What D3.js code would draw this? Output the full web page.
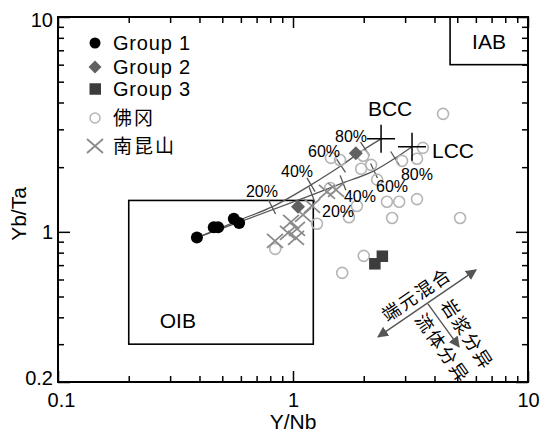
<!DOCTYPE html>
<html>
<head>
<meta charset="utf-8">
<script src="https://cdn.jsdelivr.net/npm/d3@7"></script>
<style>
  body { margin: 0; background: #fff; }
  text { font-family: "Liberation Sans", Arial, sans-serif; fill: #000; }
  .cjk { font-family: "Noto Sans CJK SC", sans-serif; }
</style>
</head>
<body>
<div id="chart"></div>
<script>
// values (Y/Nb, Yb/Ta)
const xTickValues = [0.1, 1, 10];
const yTickValues = [0.2, 1, 10];
const xMinorTicks = [0.2, 0.3, 0.4, 0.5, 0.6, 0.7, 0.8, 0.9, 2, 3, 4, 5, 6, 7, 8, 9];
const yMinorTicks = [0.3, 0.4, 0.5, 0.6, 0.7, 0.8, 0.9, 2, 3, 4, 5, 6, 7, 8, 9];

const group1 = [[0.39, 0.94], [0.46, 1.05], [0.48, 1.05], [0.56, 1.15], [0.59, 1.10]];
const group2 = [[1.05, 1.31], [1.85, 2.32]];
const group3 = [[2.23, 0.71], [2.40, 0.77]];
const fogang = [
  [4.35, 3.54], [3.57, 2.46], [3.37, 2.19], [2.91, 2.14], [1.45, 2.21], [1.585, 2.16],
  [1.99, 2.26], [2.15, 2.05], [1.95, 1.965], [2.28, 1.75], [1.44, 1.60], [1.87, 1.32],
  [2.51, 1.38], [2.83, 1.38], [3.37, 1.42], [1.73, 1.17], [2.64, 1.16], [5.14, 1.16],
  [1.265, 1.09], [0.84, 0.833], [2.0, 0.773], [1.62, 0.644]
];
const nankunshan = [
  [0.838, 0.908], [0.952, 0.989], [0.981, 1.113], [1.04, 1.033], [1.03, 0.938],
  [1.103, 1.20], [1.205, 1.32], [1.395, 1.535], [1.524, 1.569]
];

const endMembers = ["BCC", "LCC"];
const endMemberX = [2.37, 3.21];
const endMemberY = [2.71, 2.49];

const bccCurve = [[0.398, 0.948], [0.595, 1.137], [0.814, 1.307], [1.193, 1.655], [1.601, 2.03], [2.025, 2.435], [2.37, 2.71]];
const lccCurve = [[0.398, 0.948], [0.595, 1.113], [1.205, 1.487], [1.632, 1.691], [2.212, 1.923], [2.716, 2.20], [3.21, 2.49]];
const mixLabels = ["20%", "40%", "60%", "80%"];
const bccTickIndex = [2, 3, 4, 5];
const lccTickIndex = [2, 3, 4, 5];

const oibField = [0.2, 1.22, 0.3, 1.4];
const iabField = [4.66, 10, 6, 10];

const mixArrow = [[2.30, 0.3245], [6.01, 0.665]];
const fracArrow = [[3.75, 0.462], [5.09, 0.2915]];
const notes = ["端元混合", "岩浆分异", "流体分异"];
const noteX = [3.37, 5.50, 4.31];
const noteY = [0.509, 0.3315, 0.2866];

const w = 544;
const h = 435;
const mLeft = 58, mRight = 528, mTop = 17, mBottom = 382;

const x = d3.scaleLog().domain([0.1, 10]).range([mLeft, mRight]);
const y = d3.scaleLog().domain([0.2, 10]).range([mBottom, mTop]);

const svg = d3.select("#chart")
  .append("svg")
  .attr("width", w)
  .attr("height", h);

const defs = svg.append("defs");
defs.append("clipPath")
  .attr("id", "plot")
  .append("rect")
  .attr("x", mLeft).attr("y", mTop)
  .attr("width", mRight - mLeft).attr("height", mBottom - mTop);

defs.append("marker")
  .attr("id", "head")
  .attr("viewBox", "0 0 10 10")
  .attr("refX", 9).attr("refY", 5)
  .attr("markerWidth", 11).attr("markerHeight", 11)
  .attr("markerUnits", "userSpaceOnUse")
  .attr("orient", "auto-start-reverse")
  .append("path")
  .attr("d", "M0,0L10,5L0,10Z")
  .attr("fill", "#555");

// axes: minor ticks, then major ticks with labels
const fmt = d => String(d);
function addAxis(axis, tx, ty) {
  const g = svg.append("g").attr("transform", `translate(${tx},${ty})`).call(axis);
  g.select(".domain").remove();
  g.selectAll("line").attr("stroke", "#000").attr("stroke-width", 1.5);
  g.selectAll("text").style("font-size", "20px").style("font-family", "Liberation Sans, Arial, sans-serif");
  return g;
}
addAxis(d3.axisBottom(x).tickValues(xMinorTicks).tickSize(-6).tickFormat(""), 0, mBottom);
addAxis(d3.axisBottom(x).tickValues(xTickValues).tickSize(-11).tickPadding(11).tickFormat(fmt), 0, mBottom)
  .selectAll("text").attr("dx", d => d === 0.1 ? 3 : 0);
addAxis(d3.axisTop(x).tickValues(xMinorTicks).tickSize(-6).tickFormat(""), 0, mTop);
addAxis(d3.axisTop(x).tickValues(xTickValues).tickSize(-11).tickFormat(""), 0, mTop);
addAxis(d3.axisLeft(y).tickValues(yMinorTicks).tickSize(-6).tickFormat(""), mLeft, 0);
addAxis(d3.axisLeft(y).tickValues(yTickValues).tickSize(-12).tickPadding(5).tickFormat(fmt), mLeft, 0)
  .selectAll("text").attr("y", d => d === 0.2 ? -4 : (d === 10 ? 3 : 0));
addAxis(d3.axisRight(y).tickValues(yMinorTicks).tickSize(-6).tickFormat(""), mRight, 0);
addAxis(d3.axisRight(y).tickValues(yTickValues).tickSize(-12).tickFormat(""), mRight, 0);

svg.append("rect")
  .attr("x", mLeft).attr("y", mTop)
  .attr("width", mRight - mLeft).attr("height", mBottom - mTop)
  .attr("fill", "none").attr("stroke", "#000").attr("stroke-width", 2);

svg.append("text")
  .attr("x", (mLeft + mRight) / 2).attr("y", 429)
  .attr("text-anchor", "middle")
  .style("font-size", "21px")
  .text("Y/Nb");

svg.append("text")
  .attr("transform", `translate(26,214) rotate(-90)`)
  .attr("text-anchor", "middle")
  .style("font-size", "21px")
  .text("Yb/Ta");

const plot = svg.append("g").attr("clip-path", "url(#plot)");

// discrimination fields
[oibField, iabField].forEach(f => {
  plot.append("rect")
    .attr("x", x(f[0])).attr("y", y(f[3]))
    .attr("width", x(f[1]) - x(f[0])).attr("height", y(f[2]) - y(f[3]))
    .attr("fill", "none").attr("stroke", "#000").attr("stroke-width", 1.6);
});
svg.append("text")
  .attr("x", (x(oibField[0]) + 31)).attr("y", y(oibField[2]) - 16)
  .style("font-size", "21px")
  .text("OIB");
svg.append("text")
  .attr("x", (x(iabField[0]) + mRight) / 2).attr("y", (y(iabField[2]) + mTop) / 2 + 8)
  .attr("text-anchor", "middle")
  .style("font-size", "21px")
  .text("IAB");

// mixing curves
const line = d3.line().x(d => x(d[0])).y(d => y(d[1])).curve(d3.curveMonotoneX);
const bccLabelOffset = [[-10, -15], [-14, -13], [-17, -14], [-14, -12]];
const lccLabelOffset = [[26, 17], [17, 14], [18, 16], [22, 16]];

function drawMix(curve, ticks, offsets) {
  plot.append("path")
    .attr("d", line(curve))
    .attr("fill", "none")
    .attr("stroke", "#555")
    .attr("stroke-width", 1.3);
  ticks.forEach((k, i) => {
    const a = curve[k - 1], b = curve[k + 1];
    const dx = x(b[0]) - x(a[0]), dy = y(b[1]) - y(a[1]);
    const len = Math.hypot(dx, dy);
    const nx = -dy / len * 8, ny = dx / len * 8;
    const px = x(curve[k][0]), py = y(curve[k][1]);
    plot.append("line")
      .attr("x1", px - nx).attr("y1", py - ny)
      .attr("x2", px + nx).attr("y2", py + ny)
      .attr("stroke", "#555").attr("stroke-width", 1.3);
    svg.append("text")
      .attr("x", px + offsets[i][0]).attr("y", py + offsets[i][1])
      .attr("text-anchor", "middle")
      .attr("dy", "0.35em")
      .style("font-size", "16px")
      .text(mixLabels[i]);
  });
}
drawMix(bccCurve, bccTickIndex, bccLabelOffset);
drawMix(lccCurve, lccTickIndex, lccLabelOffset);

// process arrows and notes
plot.append("line")
  .attr("x1", x(mixArrow[0][0])).attr("y1", y(mixArrow[0][1]))
  .attr("x2", x(mixArrow[1][0])).attr("y2", y(mixArrow[1][1]))
  .attr("stroke", "#555").attr("stroke-width", 1.4)
  .attr("marker-start", "url(#head)").attr("marker-end", "url(#head)");
plot.append("line")
  .attr("x1", x(fracArrow[0][0])).attr("y1", y(fracArrow[0][1]))
  .attr("x2", x(fracArrow[1][0])).attr("y2", y(fracArrow[1][1]))
  .attr("stroke", "#555").attr("stroke-width", 1.4)
  .attr("marker-end", "url(#head)");

const angMix = Math.atan2(y(mixArrow[1][1]) - y(mixArrow[0][1]), x(mixArrow[1][0]) - x(mixArrow[0][0])) * 180 / Math.PI;
const noteAngle = [angMix, 57, 55];
notes.forEach((t, i) => {
  plot.append("text")
    .attr("class", "cjk")
    .attr("transform", `translate(${x(noteX[i])},${y(noteY[i])}) rotate(${noteAngle[i]})`)
    .attr("text-anchor", "middle")
    .attr("dy", "0.35em")
    .style("font-size", "18px")
    .style("letter-spacing", "2px")
    .text(t);
});

// 佛冈 and 南昆山
plot.selectAll(".fg").data(fogang).enter()
  .append("circle")
  .attr("cx", d => x(d[0])).attr("cy", d => y(d[1]))
  .attr("r", 5.5)
  .attr("fill", "none").attr("stroke", "#b5b5b5").attr("stroke-width", 1.6);

const xShape = "M-8,-7L8,7M-8,7L8,-7";
plot.selectAll(".nk").data(nankunshan).enter()
  .append("path")
  .attr("transform", d => `translate(${x(d[0])},${y(d[1])})`)
  .attr("d", xShape)
  .attr("stroke", "#8a8a8a").attr("stroke-width", 1.8).attr("fill", "none");

// samples
plot.selectAll(".g1").data(group1).enter()
  .append("circle")
  .attr("cx", d => x(d[0])).attr("cy", d => y(d[1]))
  .attr("r", 6).attr("fill", "#000");

const diamond = "M0,-7L7,0L0,7L-7,0Z";
plot.selectAll(".g2").data(group2).enter()
  .append("path")
  .attr("transform", d => `translate(${x(d[0])},${y(d[1])})`)
  .attr("d", diamond).attr("fill", "#616161");

plot.selectAll(".g3").data(group3).enter()
  .append("rect")
  .attr("x", d => x(d[0]) - 5.75).attr("y", d => y(d[1]) - 5.75)
  .attr("width", 11.5).attr("height", 11.5).attr("fill", "#3c3c3c");

// crustal end members
const plus = "M-14,0L14,0M0,-14L0,14";
endMembers.forEach((name, i) => {
  plot.append("path")
    .attr("transform", `translate(${x(endMemberX[i])},${y(endMemberY[i])})`)
    .attr("d", plus)
    .attr("stroke", "#000").attr("stroke-width", 1.5);
});
svg.append("text")
  .attr("x", x(endMemberX[0]) + 9).attr("y", y(endMemberY[0]) - 23)
  .attr("text-anchor", "middle")
  .style("font-size", "21px")
  .text(endMembers[0]);
svg.append("text")
  .attr("x", x(endMemberX[1]) + 20).attr("y", y(endMemberY[1]) + 4)
  .attr("dy", "0.35em")
  .style("font-size", "21px")
  .text(endMembers[1]);

// legend
const legendNames = ["Group 1", "Group 2", "Group 3", "佛冈", "南昆山"];
const legendY = [43, 67, 89, 118, 146];
const legend = svg.append("g");
legend.append("circle").attr("cx", 95).attr("cy", legendY[0]).attr("r", 5.5).attr("fill", "#000");
legend.append("path").attr("transform", `translate(95,${legendY[1]})`).attr("d", "M0,-6.5L6.5,0L0,6.5L-6.5,0Z").attr("fill", "#616161");
legend.append("rect").attr("x", 89.5).attr("y", legendY[2] - 5.75).attr("width", 11.5).attr("height", 11.5).attr("fill", "#3c3c3c");
legend.append("circle").attr("cx", 95).attr("cy", legendY[3]).attr("r", 5).attr("fill", "none").attr("stroke", "#b5b5b5").attr("stroke-width", 1.5);
legend.append("path").attr("transform", `translate(95,${legendY[4]})`).attr("d", xShape).attr("stroke", "#8a8a8a").attr("stroke-width", 1.8);
legendNames.forEach((t, i) => {
  legend.append("text")
    .attr("class", i > 2 ? "cjk" : null)
    .attr("x", 113).attr("y", legendY[i])
    .attr("dy", "0.35em")
    .style("font-size", i > 2 ? "19px" : "20px")
    .style("letter-spacing", i > 2 ? "2px" : "0.8px")
    .text(t);
});
</script>
</body>
</html>
